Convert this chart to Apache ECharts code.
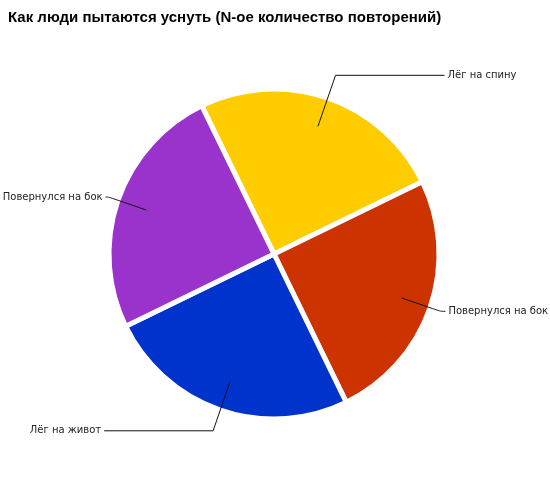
<!DOCTYPE html>
<html>
<head>
<meta charset="utf-8">
<script src="https://cdn.jsdelivr.net/npm/echarts@6/dist/echarts.min.js"></script>
<style>html,body{margin:0;padding:0;background:#fff}#c{width:550px;height:486px}</style>
</head>
<body>
<div id="c"></div>
<script>
var titleText = 'Как люди пытаются уснуть (N-ое количество повторений)';
var categories = ['Лёг на спину', 'Повернулся на бок', 'Лёг на живот', 'Повернулся на бок'];
var values = [1, 1, 1, 1];
var colors = ['#FFCC00', '#CC3300', '#0033CC', '#9933CC'];
var lineLen = [54, 41, 52, 40];
var lineLen2 = [109, 5, 109, 3];
var lineSmooth = [0, 0.3, 0, 0.3];

var chart = echarts.init(document.getElementById('c'), null, {renderer: 'canvas'});
var baseData = categories.map(function (n, i) {
  return {name: n, value: values[i], itemStyle: {color: colors[i]}};
});
var labelData = categories.map(function (n, i) {
  return {
    name: n, value: values[i],
    labelLine: {length: lineLen[i], length2: lineLen2[i], smooth: lineSmooth[i]}
  };
});
chart.setOption({
  animation: false,
  title: {
    text: titleText, left: 8, top: 10, padding: 0,
    textStyle: {fontFamily: 'Liberation Sans', fontWeight: 'bold', fontSize: 15, color: '#000'}
  },
  series: [
    {
      type: 'pie', center: [274, 254], radius: 165, startAngle: 116, clockwise: true,
      silent: true, avoidLabelOverlap: false, z: 1,
      label: {show: false}, labelLine: {show: false},
      itemStyle: {borderColor: '#fff', borderWidth: 5},
      data: baseData
    },
    {
      type: 'pie', center: [274, 254], radius: 135, startAngle: 116, clockwise: true,
      silent: true, avoidLabelOverlap: false, z: 5,
      itemStyle: {color: 'rgba(0,0,0,0)', borderWidth: 0},
      label: {
        show: true, position: 'outside', distanceToLabelLine: 3,
        fontFamily: 'DejaVu Sans', fontSize: 10, color: '#222'
      },
      labelLine: {show: true, lineStyle: {color: '#111', width: 1}},
      data: labelData
    }
  ]
});
</script>
</body>
</html>
